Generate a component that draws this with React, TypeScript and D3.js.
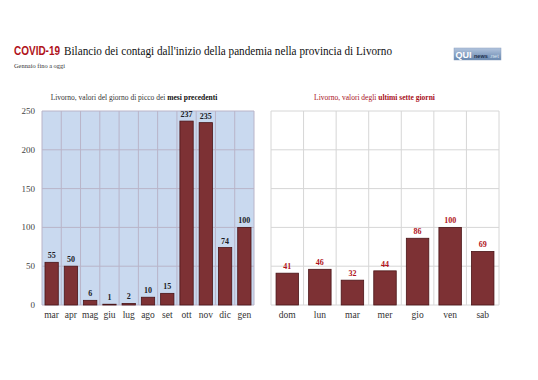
import React from "react";
import * as d3 from "d3";

const months = ["mar", "apr", "mag", "giu", "lug", "ago", "set", "ott", "nov", "dic", "gen"];
const monthValues = [55, 50, 6, 1, 2, 10, 15, 237, 235, 74, 100];
const days = ["dom", "lun", "mar", "mer", "gio", "ven", "sab"];
const dayValues = [41, 46, 32, 44, 86, 100, 69];
const yTicks = [0, 50, 100, 150, 200, 250];

const SERIF = "Liberation Serif";
const SANS = "Liberation Sans";
const BAR = "#7d3134";
const BAR_STROKE = "#4a1417";

const yTop = 111;
const yBot = 305;
const y = d3.scaleLinear().domain([0, 250]).range([yBot, yTop]);

function Panel({ cats, vals, x0, x1, bg, grid, labelColor, showY }: any) {
  const bw = (x1 - x0) / cats.length;
  const x = d3.scaleBand<string>().domain(cats).range([x0, x1]).paddingInner(0.31).paddingOuter(0.155);
  const bounds = d3.range(cats.length + 1).map((i) => x0 + bw * i);
  return (
    <g>
      <rect x={x0} y={yTop} width={x1 - x0} height={yBot - yTop} fill={bg} />
      {yTicks.map((t) => (
        <line key={"h" + t} x1={x0} x2={x1} y1={y(t)} y2={y(t)} stroke={grid} strokeWidth={1} />
      ))}
      {bounds.map((b, i) => (
        <line key={"v" + i} x1={b} x2={b} y1={yTop} y2={yBot} stroke={grid} strokeWidth={1} />
      ))}
      {showY &&
        yTicks.map((t) => (
          <text key={"yl" + t} x={35} y={y(t) + 3} textAnchor="end" style={{ fontFamily: SERIF }} fontSize={9} fill="#444">
            {t}
          </text>
        ))}
      {cats.map((c: string, i: number) => {
        const bx = x(c) as number;
        const barW = x.bandwidth();
        const cx = bx + barW / 2;
        const v = vals[i];
        return (
          <g key={c + i}>
            <rect x={bx} y={y(v)} width={barW} height={yBot - y(v)} fill={BAR} stroke={BAR_STROKE} strokeWidth={0.8} />
            <text x={cx} y={y(v) - 4} textAnchor="middle" style={{ fontFamily: SERIF }} fontWeight="bold" fontSize={8} fill={labelColor}>
              {v}
            </text>
            <text x={cx} y={318} textAnchor="middle" style={{ fontFamily: SERIF }} fontSize={9.5} fill="#333">
              {c}
            </text>
          </g>
        );
      })}
    </g>
  );
}

export default function App() {
  return (
    <svg width={538} height={380} style={{ position: "absolute", left: 0, top: 0 }}>
      <rect width={538} height={380} fill="#fff" />
      <text x={14} y={55} style={{ fontFamily: SANS }} fontWeight="bold" fontSize={10} fill="#b0121a" transform="translate(0,-16.5) scale(1,1.3)">
        COVID-19
      </text>
      <text x={64} y={55} style={{ fontFamily: SERIF }} fontSize={13} fill="#111" textLength={328} lengthAdjust="spacingAndGlyphs">
        Bilancio dei contagi dall'inizio della pandemia nella provincia di Livorno
      </text>
      <text x={14} y={68} style={{ fontFamily: SERIF }} fontSize={6.5} fill="#333" textLength={51} lengthAdjust="spacingAndGlyphs">
        Gennaio fino a oggi
      </text>
      <defs>
        <linearGradient id="logo" x1="0" y1="0" x2="0" y2="1">
          <stop offset="0" stopColor="#b3c5de" />
          <stop offset="1" stopColor="#6686ae" />
        </linearGradient>
      </defs>
      <rect x={454} y={48} width={47} height={12} fill="url(#logo)" stroke="#8aa0c0" strokeWidth={0.5} />
      <text x={455.5} y={58} style={{ fontFamily: SANS }} fontWeight="bold" fontSize={9} fill="#fff">
        QUI
      </text>
      <text x={474} y={57.5} style={{ fontFamily: SANS }} fontWeight="bold" fontSize={5.5} fill="#1d2c4a">
        news
      </text>
      <text x={489.5} y={57.5} style={{ fontFamily: SANS }} fontSize={5.5} fill="#dde6f2">
        .net
      </text>

      <text x={134} y={100} textAnchor="middle" style={{ fontFamily: SERIF }} fontSize={7.5} fill="#333">
        Livorno, valori del giorno di picco dei <tspan fontWeight="bold" fill="#111">mesi precedenti</tspan>
      </text>
      <text x={374.5} y={100} textAnchor="middle" style={{ fontFamily: SERIF }} fontSize={7.5} fill="#a8101a">
        Livorno, valori degli <tspan fontWeight="bold">ultimi sette giorni</tspan>
      </text>

      <Panel cats={months} vals={monthValues} x0={42} x1={254} bg="#c9d9ef" grid="#b9b4c8" labelColor="#1a1c26" showY={true} />
      <Panel cats={days} vals={dayValues} x0={271} x1={499} bg="#ffffff" grid="#d6d6d6" labelColor="#b0121a" showY={false} />
    </svg>
  );
}
